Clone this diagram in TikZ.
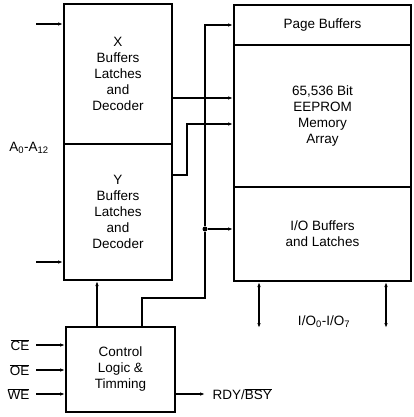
\documentclass[tikz,border=0pt]{standalone}
\usepackage{fontspec}
\setmainfont{Liberation Sans}
\usetikzlibrary{arrows.meta,positioning,calc}

\begin{document}
\begin{tikzpicture}[
  x=1pt, y=-1pt,
  every node/.style={font=\fontsize{13.5}{16}\selectfont},
  blk/.style={draw, line width=2pt, inner sep=0pt, align=center},
  sig/.style={line width=1.2pt, -{Latex[length=5pt,width=3.5pt]}},
  bidir/.style={line width=1.2pt, {Latex[length=5pt,width=3.5pt]}-{Latex[length=5pt,width=3.5pt]}},
  wire/.style={line width=1.2pt},
  dot/.style={circle, fill, inner sep=0pt, minimum size=5pt},
]
\useasboundingbox (0,0) rectangle (413,417);

% decoders and control
\node[blk, minimum width=108pt, minimum height=140pt] (xdec) at (118,74)
  {X\\Buffers\\Latches\\and\\Decoder};
\node[blk, minimum width=108pt, minimum height=136pt] (ydec) at (118,212)
  {Y\\Buffers\\Latches\\and\\Decoder};
\node[blk, minimum width=109pt, minimum height=85pt] (ctrl) at (120.5,369.5)
  {Control\\Logic \&\\Timming};

% memory column
\node[blk, minimum width=177pt, minimum height=40pt] (page) at (322.5,25)
  {Page Buffers};
\node[blk, minimum width=177pt, minimum height=142pt] (mem) at (322.5,116)
  {65,536 Bit\\EEPROM\\Memory\\Array};
\node[blk, minimum width=177pt, minimum height=94pt] (iobuf) at (322.5,234)
  {I/O Buffers\\and Latches};

% address inputs
\coordinate (ain1) at (36,24);
\coordinate (ain2) at (36,262);
\draw[sig] (ain1) -- (ain1 -| xdec.west);
\draw[sig] (ain2) -- (ain2 -| ydec.west);
\node (alabel) at (29,148) {A\textsubscript{0}-A\textsubscript{12}};

% decoder outputs
\coordinate (xo) at (172,98);
\draw[sig] (xo) -- (xo -| mem.west);
\coordinate (yo) at (172,175);
\coordinate (ybend) at (187,124);
\draw[sig] (yo) -| (ybend) -- (ybend -| mem.west);

% control bus
\coordinate (cbus) at (142,298);
\coordinate (vbus) at (205,298);
\node[dot] (jn) at (205,229) {};
\draw[wire] (cbus |- ctrl.north) -- (cbus) -- (vbus) -- (jn);
\draw[sig] (jn) |- (page.west);
\draw[sig] (jn) -- (jn -| iobuf.west);
\draw[sig] ([xshift=-23.5pt]ctrl.north) -- ([xshift=-23.5pt]ctrl.north |- ydec.south);

% control inputs
\coordinate (cein) at (36,345);
\coordinate (oein) at (36,370);
\coordinate (wein) at (36,394);
\node[left=3pt of cein] (celbl) {$\overline{\mbox{CE}}$};
\node[left=3pt of oein] (oelbl) {$\overline{\mbox{OE}}$};
\node[left=3pt of wein] (welbl) {$\overline{\mbox{WE}}$};
\draw[sig] (cein) -- (cein -| ctrl.west);
\draw[sig] (oein) -- (oein -| ctrl.west);
\draw[sig] (wein) -- (wein -| ctrl.west);

% ready/busy output
\coordinate (rdy) at (205,394);
\draw[sig] (ctrl.east |- rdy) -- (rdy);
\node[right=4pt of rdy] (rdylbl) {RDY/$\overline{\mbox{BSY}}$};

% data lines
\coordinate (io1) at (259,328);
\coordinate (io2) at (386,328);
\draw[bidir] (io1 |- iobuf.south) -- (io1);
\draw[bidir] (io2 |- iobuf.south) -- (io2);
\node (iolbl) at (324,322) {I/O\textsubscript{0}-I/O\textsubscript{7}};
\end{tikzpicture}
\end{document}
